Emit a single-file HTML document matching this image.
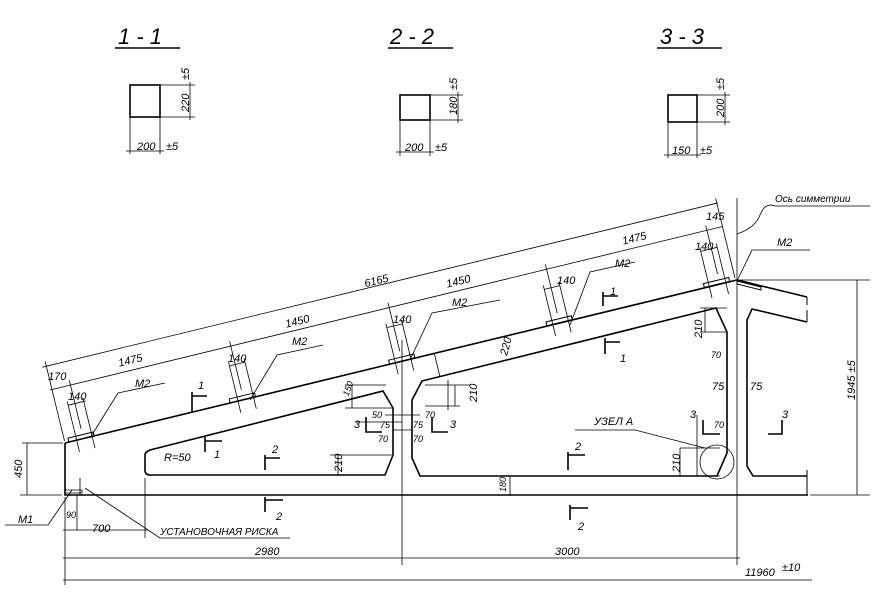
<html><head><style>body{margin:0;background:#fff}svg{display:block}text{font-family:"Liberation Sans",sans-serif;font-style:italic;fill:#000}</style></head><body>
<svg width="890" height="603" viewBox="0 0 890 603" xmlns="http://www.w3.org/2000/svg">
<g stroke="#000" fill="none" stroke-width="0.8">
<line x1="115" y1="48" x2="180" y2="48" stroke-width="1.6"/>
<line x1="388" y1="48" x2="453" y2="48" stroke-width="1.6"/>
<line x1="657" y1="48" x2="722" y2="48" stroke-width="1.6"/>
<rect x="130" y="85" width="30" height="32" stroke-width="1.6"/>
<path d="M160 85H195M160 117H195M190 82V120M130 117V154M160 117V154M126 151H164"/>
<rect x="400" y="95" width="30" height="25" stroke-width="1.6"/>
<path d="M430 95H463M430 120H463M458 92V123M400 120V156M430 120V156M396 152H434"/>
<rect x="668" y="95" width="29" height="27" stroke-width="1.6"/>
<path d="M697 95H730M697 122H730M725 92V125M668 122V158M697 122V158M664 155H701"/>
<path d="M65 443V495H808M65 443L737 280L807 297" stroke-width="1.6"/>
<path d="M807 297V305M807 310V322M807 470V495" stroke-width="1"/>
<path d="M145 455Q145 452 150 450L383 391L393 408V455L385 475H150Q145 475 145 470Z" stroke-width="1.6"/>
<path d="M422 381L716 308L727 332V453L717 476H420L412 458V400Z" stroke-width="1.6"/>
<path d="M807 322L752 309L747 320V466L753 476H807" stroke-width="1.6"/>
<line x1="737" y1="198" x2="737" y2="565"/>
<line x1="402" y1="340" x2="402" y2="565"/>
<line x1="145" y1="478" x2="145" y2="538"/>
<line x1="65" y1="497" x2="65" y2="585"/>
<path d="M737 234Q755 228 760 215T775 206H870"/>
<path d="M63 530H148M63 558H740M63 580H812M62 495H20"/>
<path d="M77 495V530"/>
<path d="M27 443V495M22 443H63"/>
<path d="M740 280H870M857 280V495M810 495H870"/>
<path d="M5 525H48L72 490M80 478V495M85 488L160 538H290"/>
<path d="M65 493H82V490H65"/>
<circle cx="717" cy="462" r="17"/>
<path d="M575 430H635L705 448"/>
<path d="M510 476V496M505 476H720M680 448H720M680 448V476M697 415V476"/>
<path d="M700 308H727M700 332H727M705 308V332"/>
<path d="M345 385H386M345 408H393M352 385V408M330 455H393M338 455V475"/>
<path d="M425 385H470M455 385V406M425 406H460M448 380V410"/>
<path d="M355 422H402M385 415H420M393 430H412"/>
<path stroke-width="1.6" d="M192 392V412M192 396H207M205 437V452M205 441H222M265 455V470M265 458H280M265 497V512M265 500H283M568 452V470M568 455H585M570 505V520M570 508H588M603 292V306M603 296H618M605 338V354M605 342H620M366 417V432H382M432 417V432H448M703 420V434H720M782 420V434H768"/>
<g transform="translate(65 443) rotate(-13.67)">
<path d="M-4 -79H691M0 -2V-84M690 -2V-84"/>
<path d="M-2 -55H690M19 -10V-60M184 -10V-60M347 -10V-60M509 -10V-60M674 -10V-60"/>
<path d="M12 -36H30M12 12V-40M28 12V-40M178 -36H194M178 12V-40M194 12V-40M340 -36H356M340 12V-40M356 12V-40M502 -36H518M502 12V-40M518 12V-40M663 -36H680M663 12V-40M680 12V-40"/>
<path d="M4 -4h26v4h-26zM170 -4h26v4h-26zM334 -4h26v4h-26zM496 -4h26v4h-26zM658 -4h26v4h-26z" stroke-width="1"/>
<path d="M380 0V24"/>
</g>
<path d="M737 281l24 6v3l-24-6z" stroke-width="1"/>
<path d="M90 438L118 393L165 383M250 400L277 355L323 345M410 360L432 313L500 300M570 325L590 272L635 262M737 281L752 250L810 250"/>
</g>
<g font-size="11">
<text x="118" y="44" font-size="22">1 - 1</text>
<text x="390" y="44" font-size="22">2 - 2</text>
<text x="660" y="44" font-size="22">3 - 3</text>
<text x="137" y="150">200</text><text x="166" y="150">±5</text>
<text x="405" y="151">200</text><text x="435" y="151">±5</text>
<text x="672" y="154">150</text><text x="700" y="154">±5</text>
<text transform="translate(189 112) rotate(-90)">220</text><text transform="translate(189 80) rotate(-90)">±5</text>
<text transform="translate(457 115) rotate(-90)">180</text><text transform="translate(457 90) rotate(-90)">±5</text>
<text transform="translate(724 117) rotate(-90)">200</text><text transform="translate(724 90) rotate(-90)">±5</text>
<text x="364" y="284" transform="rotate(-13.67 378 280)">6165</text>
<text x="118" y="364" transform="rotate(-13.67 130 360)">1475</text>
<text x="285" y="325" transform="rotate(-13.67 297 321)">1450</text>
<text x="446" y="285" transform="rotate(-13.67 458 281)">1450</text>
<text x="622" y="242" transform="rotate(-13.67 634 238)">1475</text>
<text x="48" y="380">170</text>
<text x="68" y="400">140</text><text x="228" y="362">140</text><text x="393" y="323">140</text><text x="557" y="284">140</text><text x="695" y="250">140</text>
<text x="706" y="220">145</text>
<text x="135" y="387">M2</text><text x="292" y="345">M2</text><text x="452" y="306">M2</text><text x="615" y="267">M2</text><text x="777" y="246">M2</text>
<text x="775" y="202" font-size="10">Ось симметрии</text>
<text x="594" y="425">УЗЕЛ А</text>
<text x="160" y="535" font-size="10">УСТАНОВОЧНАЯ РИСКА</text>
<text x="18" y="523">M1</text>
<text x="66" y="518" font-size="9">90</text>
<text x="92" y="532">700</text>
<text x="255" y="555">2980</text>
<text x="555" y="555">3000</text>
<text x="745" y="576">11960</text><text x="782" y="571">±10</text>
<text transform="translate(22 478) rotate(-90)">450</text>
<text transform="translate(855 400) rotate(-90)">1945 ±5</text>
<text x="164" y="461">R=50</text>
<text x="345" y="392" font-size="9" transform="rotate(-70 350 392)">150</text>
<text x="372" y="418" font-size="9">50</text><text x="380" y="428" font-size="9">75</text><text x="378" y="442" font-size="9">70</text>
<text x="425" y="418" font-size="9">70</text><text x="413" y="428" font-size="9">75</text><text x="413" y="442" font-size="9">70</text>
<text x="711" y="358" font-size="9">70</text><text x="712" y="390">75</text><text x="750" y="390">75</text><text x="714" y="428" font-size="9">70</text>
<text transform="translate(342 472) rotate(-90)">210</text>
<text transform="translate(477 402) rotate(-90)">210</text>
<text transform="translate(680 472) rotate(-90)">210</text>
<text transform="translate(702 338) rotate(-90)">210</text>
<text transform="translate(507 356) rotate(-75)">220</text>
<text transform="translate(506 492) rotate(-90)" font-size="9">180</text>
<text x="198" y="389">1</text><text x="214" y="458">1</text><text x="272" y="453">2</text><text x="276" y="520">2</text>
<text x="575" y="450">2</text><text x="578" y="530">2</text><text x="610" y="295">1</text><text x="620" y="362">1</text>
<text x="354" y="428">3</text><text x="450" y="428">3</text><text x="690" y="418">3</text><text x="782" y="418">3</text>
</g>
</svg></body></html>
